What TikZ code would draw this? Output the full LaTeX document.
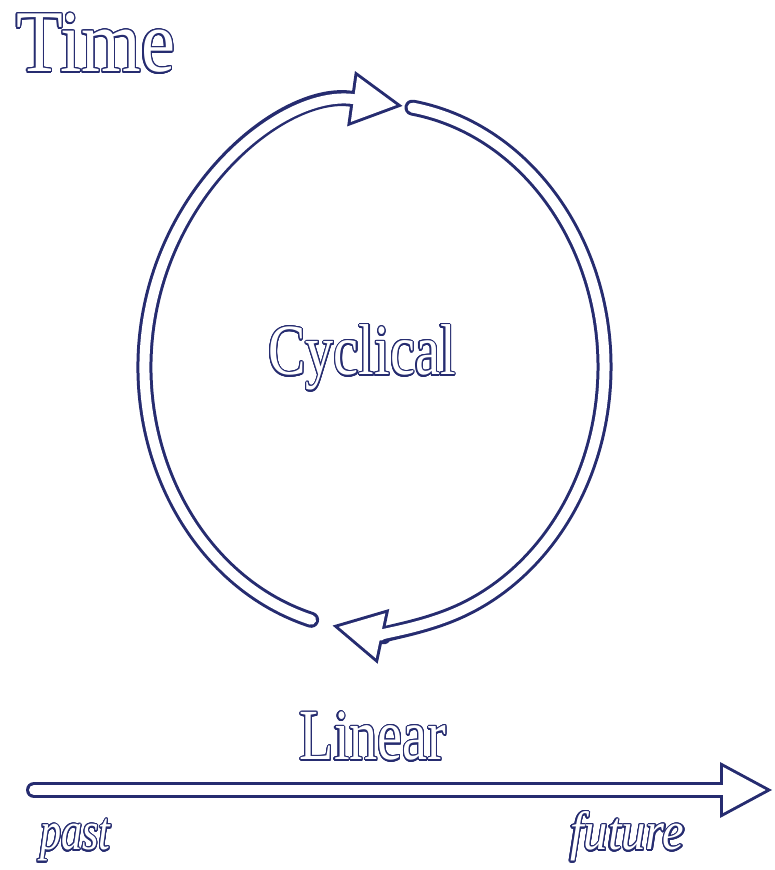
\documentclass[tikz,border=0pt]{standalone}
\usepackage{fontspec}
\setmainfont{Liberation Serif}
\usepackage{graphicx}
\usepackage{contour}
\usetikzlibrary{arrows.meta}
\definecolor{inkblue}{HTML}{262C70}
\contourlength{1.4pt}
\contournumber{24}
% outlined letters: white letter, inkblue rim
\newcommand{\hollowtext}[2][0.78]{\scalebox{#1}[1]{\contour{inkblue}{\textcolor{white}{#2}}}}

\begin{document}
\begin{tikzpicture}[x=1pt, y=1pt,
  word/.style={inner sep=0pt, font=\fontsize{72}{72}\selectfont},
  hollow/.style={draw=inkblue, line width=16pt, line cap=round,
    -{Triangle[length=52pt, width=56pt, line width=0pt]},
    postaction={draw=white, line width=10pt,
      shorten >=6.3pt, -{Triangle[length=42.7pt, width=46pt, line width=0pt]}}}
]
  \useasboundingbox (0,0) rectangle (775,870);

  % Labels
  \node[word, anchor=base west, font=\fontsize{88}{88}\selectfont] (time) at (16,798) {\hollowtext[0.87]{Time}};
  \node[word, anchor=base] (cyclical) at (362,495) {\hollowtext{Cyclical}};
  \node[word, anchor=base] (linear) at (373,110) {\hollowtext{Linear}};
  \node[word, anchor=base west, font=\fontsize{54}{54}\selectfont\itshape] (past) at (40,20) {\hollowtext{past}};
  \node[word, anchor=base west, font=\fontsize{54}{54}\selectfont\itshape] (future) at (570,20) {\hollowtext[0.9]{future}};

  % Cycle
  \coordinate (ctr) at (374.5,503);
  \path (ctr) ++(254:230 and 263) coordinate (leftstart);
  \path (ctr) ++(80.5:230 and 263) coordinate (rightstart);
  \draw[hollow] (leftstart) arc[start angle=254, end angle=83, x radius=230, y radius=263];
  \draw[hollow] (rightstart) arc[start angle=80.5, end angle=-100.5, x radius=230, y radius=263];

  % Line
  \coordinate (pastend) at (34,80);
  \coordinate (futureend) at (772,80);
  \draw[hollow] (pastend) -- (futureend);
\end{tikzpicture}
\end{document}
